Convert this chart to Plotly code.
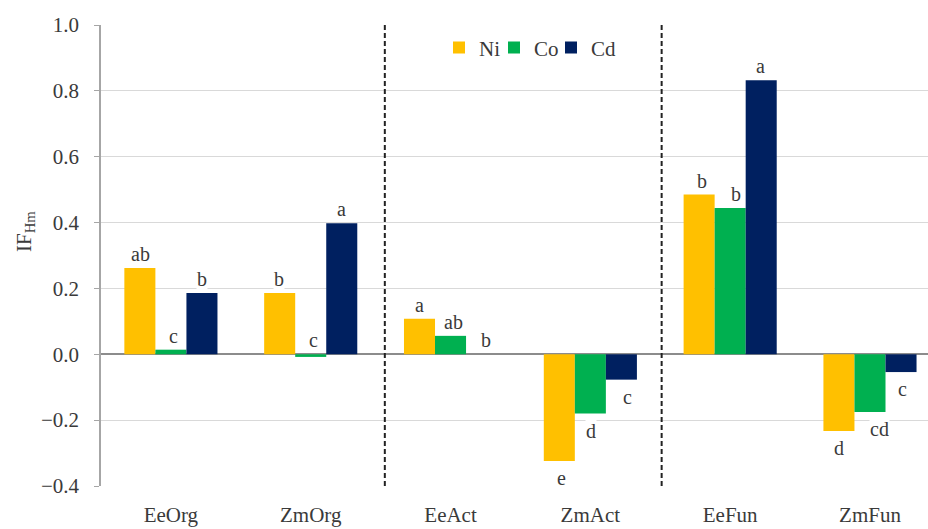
import plotly.graph_objects as go

categories = ["EeOrg", "ZmOrg", "EeAct", "ZmAct", "EeFun", "ZmFun"]
ni = [0.262, 0.186, 0.108, -0.324, 0.485, -0.233]
co = [0.014, -0.008, 0.056, -0.180, 0.444, -0.175]
cd = [0.186, 0.398, 0.0, -0.077, 0.832, -0.054]
ni_letters = ["ab", "b", "a", "e", "b", "d"]
co_letters = ["c", "c", "ab", "d", "b", "cd"]
cd_letters = ["b", "a", "b", "c", "a", "c"]
y_ticks = [-0.4, -0.2, 0.0, 0.2, 0.4, 0.6, 0.8, 1.0]
y_ticktext = ["\u22120.4", "\u22120.2", "0.0", "0.2", "0.4", "0.6", "0.8", "1.0"]
separators = [1.53, 3.51]

FONT = "Liberation Serif, Times New Roman, serif"
TXT = "#3a3a3a"
series = [
    ("Ni", ni, ni_letters, "#FFC000"),
    ("Co", co, co_letters, "#00B050"),
    ("Cd", cd, cd_letters, "#002060"),
]
legend_ids = ["legend", "legend2", "legend3"]
legend_px = [439, 494, 551]

plot_l, plot_w, plot_t, plot_h = 101, 827, 25, 461

fig = go.Figure()
xs = list(range(len(categories)))
for (name, vals, _, col), lid in zip(series, legend_ids):
    fig.add_trace(go.Bar(x=xs, y=vals, name=name, legend=lid,
                         marker=dict(color=col, line=dict(width=0))))

# layout tweaks for label horizontal offsets (px)
bar_px = 31
label_dx = {
    "Ni": [1, -1, 0, 2, 3, 0],
    "Co": [3, 3, 3, 1, 6, 10],
    "Cd": [0, 0, 4, 6, -1, 2],
}
annotations = []
for si, (name, vals, letters, col) in enumerate(series):
    for i, (v, t) in enumerate(zip(vals, letters)):
        above = v > -0.02
        yv = max(v, 0) if above else v
        annotations.append(dict(
            x=xs[i], y=yv, xref="x", yref="y", text=t, showarrow=False,
            xshift=(si - 1) * bar_px + label_dx[name][i],
            yshift=14 if above else -17,
            font=dict(family=FONT, size=20, color=TXT),
            bgcolor="white", borderpad=0,
        ))

annotations.append(dict(
    x=(25 - plot_l) / plot_w, y=(plot_t + plot_h - 232) / plot_h,
    xref="paper", yref="paper", xanchor="center", yanchor="middle",
    text="IF<sub>Hm</sub>", showarrow=False, textangle=-90,
    font=dict(family=FONT, size=21, color=TXT),
))

shapes = []
for sx in separators:
    shapes.append(dict(type="line", xref="x", yref="y", x0=sx, x1=sx, y0=-0.4, y1=1.0,
                       line=dict(color="#222222", width=2, dash="5px,3px")))

legend_common = dict(orientation="h", y=0.995, xanchor="left", yanchor="top",
                     font=dict(family=FONT, size=21, color=TXT),
                     bgcolor="rgba(0,0,0,0)", itemwidth=30)
legends = {}
for lid, lx in zip(legend_ids, legend_px):
    legends[lid] = dict(legend_common, x=(lx - plot_l) / plot_w)

fig.update_layout(
    width=928, height=529,
    margin=dict(l=plot_l, r=928 - plot_l - plot_w, t=plot_t, b=529 - plot_t - plot_h,
                autoexpand=False),
    paper_bgcolor="white", plot_bgcolor="white",
    barmode="group", bargap=0.334, bargroupgap=0,
    font=dict(family=FONT, size=20, color=TXT),
    showlegend=True,
    annotations=annotations,
    shapes=shapes,
    xaxis=dict(range=[-0.5, 5.415], tickmode="array", tickvals=xs, ticktext=categories,
               showgrid=False, showline=False, zeroline=False, ticks="",
               automargin=False,
               ticklabelstandoff=14, tickfont=dict(family=FONT, size=21, color=TXT)),
    yaxis=dict(range=[-0.4, 1.0], tickmode="array", tickvals=y_ticks, ticktext=y_ticktext,
               showgrid=True, gridcolor="#d9d9d9", gridwidth=1,
               zeroline=True, zerolinecolor="#8c8c8c", zerolinewidth=1.5,
               showline=True, linecolor="#a6a6a6", linewidth=1.5,
               ticks="outside", ticklen=5, tickcolor="#a6a6a6",
               automargin=False,
               ticklabelstandoff=11, tickfont=dict(family=FONT, size=21, color=TXT)),
    **legends,
)

fig.write_html("out.html", config={"displayModeBar": False},
               post_script="document.body.style.margin='0';")
